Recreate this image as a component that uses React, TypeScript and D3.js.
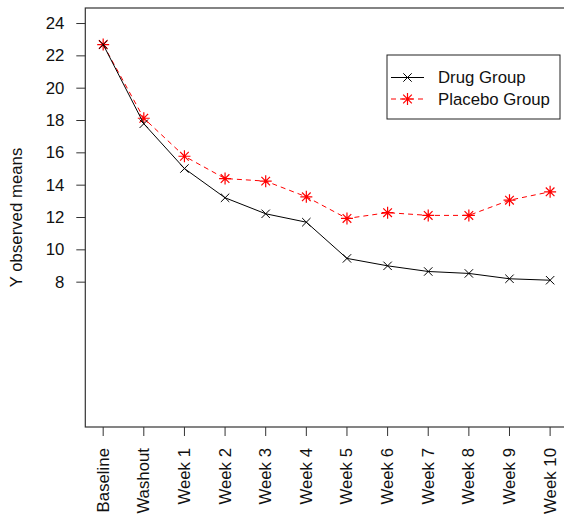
import { useEffect, useRef } from 'react';
import * as d3 from 'd3';

const timepoints = ['Baseline', 'Washout', 'Week 1', 'Week 2', 'Week 3', 'Week 4', 'Week 5', 'Week 6', 'Week 7', 'Week 8', 'Week 9', 'Week 10'];
const drugMeans = [22.7, 17.8, 15.03, 13.22, 12.23, 11.71, 9.47, 9.01, 8.66, 8.54, 8.21, 8.12];
const placeboMeans = [22.7, 18.14, 15.79, 14.41, 14.25, 13.28, 11.94, 12.3, 12.13, 12.13, 13.07, 13.59];
const yTicks = [8, 10, 12, 14, 16, 18, 20, 22, 24];
const legendLabels = ['Drug Group', 'Placebo Group'];

const FONT = '"Liberation Sans", Arial, sans-serif';
const FONT_SIZE = '16.8px';

export default function App() {
  const svgRef = useRef<SVGSVGElement>(null);

  useEffect(() => {
    const width = 564;
    const height = 516;
    const left = 85.3;
    const right = 568;
    const top = 8;
    const bottom = 427;

    d3.select(svgRef.current).selectAll('*').remove();
    const svg = d3.select(svgRef.current)
      .attr('width', width)
      .attr('height', height);

    // R style 4% axis expansion
    const xScale = d3.scaleLinear().domain([1 - 0.44, 12 + 0.44]).range([left, right]);
    const yScale = d3.scaleLinear().domain([-0.96, 24.96]).range([bottom, top]);

    // box
    svg.append('rect')
      .attr('x', left).attr('y', top)
      .attr('width', right - left).attr('height', bottom - top)
      .attr('fill', 'none').attr('stroke', '#333').attr('stroke-width', 1.2);

    // y axis
    const yAxis = svg.append('g');
    yAxis.selectAll('line').data(yTicks).join('line')
      .attr('x1', left - 9).attr('x2', left)
      .attr('y1', d => yScale(d)).attr('y2', d => yScale(d))
      .attr('stroke', '#333');
    yAxis.selectAll('text').data(yTicks).join('text')
      .attr('x', left - 21).attr('y', d => yScale(d))
      .attr('text-anchor', 'end').attr('dominant-baseline', 'central')
      .style('font-family', FONT).style('font-size', FONT_SIZE).attr('fill', '#111')
      .text(d => d);

    svg.append('text')
      .attr('transform', `translate(16,${(top + bottom) / 2}) rotate(-90)`)
      .attr('text-anchor', 'middle').attr('dominant-baseline', 'central')
      .style('font-family', FONT).style('font-size', FONT_SIZE).attr('fill', '#111')
      .text('Y observed means');

    // x axis
    const xAxis = svg.append('g');
    xAxis.selectAll('line').data(timepoints).join('line')
      .attr('x1', (_, i) => xScale(i + 1)).attr('x2', (_, i) => xScale(i + 1))
      .attr('y1', bottom).attr('y2', bottom + 9)
      .attr('stroke', '#333');
    xAxis.selectAll('text').data(timepoints).join('text')
      .attr('transform', (_, i) => `translate(${xScale(i + 1)},${bottom + 21}) rotate(-90)`)
      .attr('text-anchor', 'end').attr('dominant-baseline', 'central')
      .style('font-family', FONT).style('font-size', FONT_SIZE).attr('fill', '#111')
      .text(d => d);

    const line = d3.line<number>()
      .x((_, i) => xScale(i + 1))
      .y(d => yScale(d));

    const crossPath = (x: number, y: number, r: number) =>
      `M${x - r},${y - r}L${x + r},${y + r}M${x - r},${y + r}L${x + r},${y - r}`;
    const starPath = (x: number, y: number, r: number) =>
      crossPath(x, y, r * 0.72) + `M${x - r},${y}L${x + r},${y}M${x},${y - r}L${x},${y + r}`;

    // placebo
    svg.append('path').datum(placeboMeans)
      .attr('fill', 'none').attr('stroke', '#ff0000').attr('stroke-width', 1)
      .attr('stroke-dasharray', '5,4').attr('d', line);
    svg.append('path')
      .attr('d', placeboMeans.map((d, i) => starPath(xScale(i + 1), yScale(d), 6)).join(''))
      .attr('stroke', '#ff0000').attr('stroke-width', 1.2).attr('fill', 'none');

    // drug
    svg.append('path').datum(drugMeans)
      .attr('fill', 'none').attr('stroke', '#000').attr('stroke-width', 1).attr('d', line);
    svg.append('path')
      .attr('d', drugMeans.map((d, i) => crossPath(xScale(i + 1), yScale(d), 4.2)).join(''))
      .attr('stroke', '#000').attr('stroke-width', 1).attr('fill', 'none');

    // legend
    const lg = svg.append('g');
    lg.append('rect')
      .attr('x', 387).attr('y', 55).attr('width', 173).attr('height', 64)
      .attr('fill', 'white').attr('stroke', '#222').attr('stroke-width', 1);
    const rowsY = [77.5, 99];
    legendLabels.forEach((label, i) => {
      const y = rowsY[i];
      const color = i === 0 ? '#000' : '#ff0000';
      lg.append('line')
        .attr('x1', 391).attr('x2', 424).attr('y1', y).attr('y2', y)
        .attr('stroke', color).attr('stroke-width', 1)
        .attr('stroke-dasharray', i === 0 ? null : '5,4');
      lg.append('path')
        .attr('d', i === 0 ? crossPath(407.5, y, 4.2) : starPath(407.5, y, 6))
        .attr('stroke', color).attr('stroke-width', i === 0 ? 1 : 1.2).attr('fill', 'none');
      lg.append('text')
        .attr('x', 438).attr('y', y)
        .attr('dominant-baseline', 'central')
        .style('font-family', FONT).style('font-size', FONT_SIZE).attr('fill', '#111')
        .text(label);
    });
  }, []);

  return (
    <div style={{ position: 'absolute', left: 0, top: 0, background: 'white' }}>
      <svg ref={svgRef} style={{ display: 'block' }}></svg>
    </div>
  );
}
